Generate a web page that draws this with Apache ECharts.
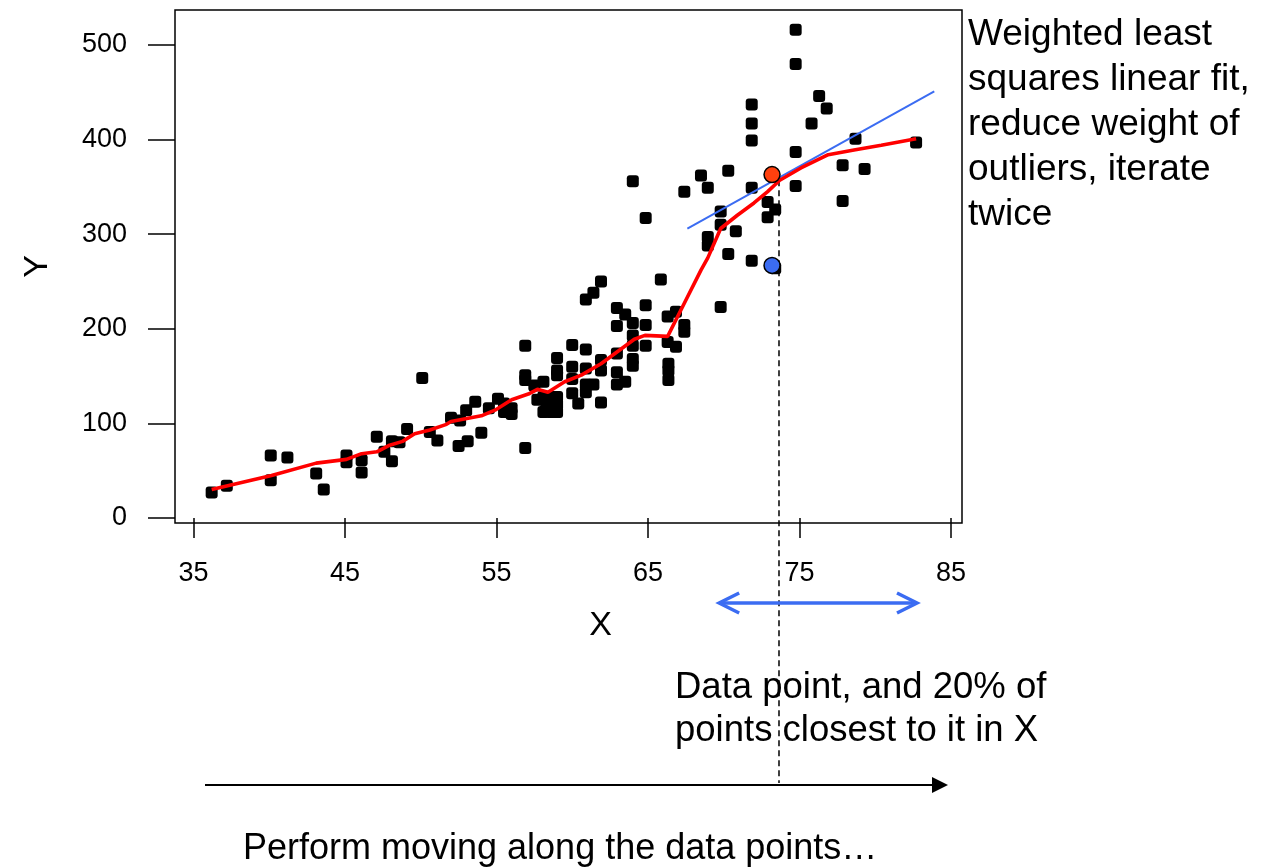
<!DOCTYPE html>
<html>
<head>
<meta charset="utf-8">
<title>Loess sketch</title>
<script src="https://cdn.jsdelivr.net/npm/echarts@6/dist/echarts.min.js"></script>
</head>
<body style="margin:0">
<div id="main" style="width:1272px;height:868px"></div>
<script>
// scatter points (X, Y)
var ptX = [36.2, 37.2, 40.1, 40.1, 41.2, 43.1, 43.6, 45.1, 45.1, 46.1, 46.1, 47.1, 47.6, 48.1, 48.1, 48.6, 49.1, 50.1, 50.6, 51.1,
           52.0, 52.6, 52.5, 53.1, 53.0, 53.6, 54.0, 54.5, 55.1, 55.5, 55.5, 56.0, 56.0,
           56.9, 56.9, 56.9, 56.9, 57.5, 57.7, 58.1, 58.1, 58.1, 58.6, 58.6, 58.3, 59.0, 59.0, 59.0, 59.0, 59.0, 59.0,
           60.0, 60.0, 60.0, 60.0, 60.4, 60.9, 60.9, 60.9, 60.9, 60.9, 61.4, 61.4, 61.9, 61.9, 61.9, 61.9,
           62.95, 62.95, 62.95, 62.95, 62.95, 63.5, 63.5, 64.0, 64.0, 64.0, 64.0, 64.0, 64.0, 64.85, 64.85, 64.85, 64.85,
           65.85, 66.3, 66.3, 66.35, 66.35, 66.35, 66.85, 66.85, 67.4, 67.4, 67.4,
           68.5, 68.95, 68.95, 68.95, 69.8, 69.8, 69.8, 70.3, 70.3, 70.8,
           71.85, 71.85, 71.85, 71.85, 71.85, 72.9, 72.9, 73.4, 73.4,
           74.75, 74.75, 74.75, 74.75, 75.8, 76.3, 76.8, 77.85, 77.85, 78.7, 79.3, 82.7];
var ptY = [27, 34, 66, 40, 64, 47, 30, 66, 59, 61, 48, 86, 70, 60, 81, 80, 94, 148, 91, 82,
           106, 103, 76, 81, 114, 123, 90, 116, 126, 121, 112, 116, 110,
           182, 151, 146, 74, 140, 125, 144, 128, 112, 112, 128, 120, 169, 156, 151, 128, 120, 112,
           183, 160, 147, 132, 121, 231, 178, 158, 141, 133, 141, 238, 250, 167, 156, 122,
           222, 203, 174, 154, 141, 215, 144, 356, 206, 193, 182, 168, 161, 317, 225, 204, 182,
           252, 213, 186, 163, 156, 146, 218, 181, 345, 204, 197,
           362, 349, 297, 288, 324, 310, 223, 367, 279, 303,
           437, 417, 399, 349, 272, 334, 318, 326, 264,
           516, 480, 387, 351, 417, 446, 433, 373, 335, 401, 369, 397];

// loess curve
var loessX = [36.2, 40.15, 43.1, 45.1, 46.1, 47.1, 47.95, 48.8, 49.6, 50.6, 51.7, 52.0, 54.0, 54.9, 56.0, 57.1, 57.7, 58.4,
              59.5, 60.6, 61.9, 63.0, 64.1, 64.8, 66.3, 67.4, 68.5, 68.95, 69.8, 70.9, 72.0, 72.9, 73.7, 75.1, 76.9, 78.6, 80.4, 82.7];
var loessY = [30, 45, 58, 62, 68, 70, 77, 81, 89, 93, 99, 102, 108, 114, 125, 131, 136, 133,
              144, 151, 163, 176, 189, 193, 192, 227, 262, 275, 306, 320, 333, 345, 357, 370, 384, 389, 394, 401];

// local weighted linear fit
var fitX = [67.6, 83.9];
var fitY = [306, 451];

// the point being smoothed: fitted value and observed value
var focusX = 73.19;
var focusFitY = 363;
var focusObsY = 267;

// dashed marker line and the 20% window
var dashX = 73.65;
var dashTopY = 357;
var windowX = [69.7, 82.76];

var xTicks = [35, 45, 55, 65, 75, 85];
var yTicks = [0, 100, 200, 300, 400, 500];

var FONT = 'Liberation Sans, Arial, sans-serif';
var BLUE = '#3b6cf2';

function zip(a, b) {
    var out = [];
    for (var i = 0; i < a.length; i++) out.push([a[i], b[i]]);
    return out;
}

var myChart = echarts.init(document.getElementById('main'));

var option = {
    animation: false,
    backgroundColor: '#fff',
    textStyle: { fontFamily: FONT },
    grid: {
        left: 175, top: 10, width: 787, height: 513,
        show: true, borderColor: '#000', borderWidth: 1.5
    },
    xAxis: {
        type: 'value', min: 33.78, max: 85.73,
        axisLine: { show: false },
        splitLine: { show: false },
        axisTick: { show: true, length: 20, customValues: xTicks, lineStyle: { color: '#000', width: 1.5 } },
        axisLabel: { customValues: xTicks, margin: 37, fontSize: 27, color: '#000', fontFamily: FONT },
        name: 'X', nameLocation: 'middle', nameGap: 86,
        nameTextStyle: { fontSize: 34, color: '#000', fontFamily: FONT, padding: [0, 0, 0, 64] }
    },
    yAxis: {
        type: 'value', min: -5.29, max: 537,
        axisLine: { show: false },
        splitLine: { show: false },
        axisTick: { show: true, length: 27, customValues: yTicks, lineStyle: { color: '#000', width: 1.5 } },
        axisLabel: { customValues: yTicks, margin: 48, fontSize: 27, color: '#000', fontFamily: FONT },
        name: 'Y', nameLocation: 'middle', nameRotate: 90, nameGap: 120,
        nameTextStyle: { fontSize: 34, color: '#000', fontFamily: FONT }
    },
    series: [
        {
            // dashed vertical marker, runs below the plot into the text
            type: 'custom', clip: false, silent: true, z: 1,
            data: [[dashX, dashTopY]],
            renderItem: function (params, api) {
                var p = api.coord([api.value(0), api.value(1)]);
                return {
                    type: 'line',
                    shape: { x1: p[0], y1: p[1], x2: p[0], y2: 783 },
                    style: { stroke: '#000', lineWidth: 1.5, lineDash: [6, 4] }
                };
            }
        },
        {
            type: 'scatter', z: 2,
            data: zip(ptX, ptY),
            symbol: 'roundRect', symbolSize: 12,
            itemStyle: { color: '#000', opacity: 1 }
        },
        {
            type: 'line', z: 3,
            data: zip(fitX, fitY),
            showSymbol: false,
            lineStyle: { color: BLUE, width: 2 }
        },
        {
            type: 'line', z: 4,
            data: zip(loessX, loessY),
            showSymbol: false,
            lineStyle: { color: '#ff0000', width: 3.6 }
        },
        {
            type: 'scatter', z: 5,
            data: [[focusX, focusFitY]],
            symbol: 'circle', symbolSize: 16,
            itemStyle: { color: '#ff400e', borderColor: '#000', borderWidth: 1.5, opacity: 1 }
        },
        {
            type: 'scatter', z: 5,
            data: [[focusX, focusObsY]],
            symbol: 'circle', symbolSize: 16,
            itemStyle: { color: BLUE, borderColor: '#000', borderWidth: 1.5, opacity: 1 }
        },
        {
            // blue double arrow showing the window in X
            type: 'custom', clip: false, silent: true, z: 5,
            data: [[windowX[0], windowX[1]]],
            renderItem: function (params, api) {
                var a = api.coord([api.value(0), 0])[0];
                var b = api.coord([api.value(1), 0])[0];
                var y = 603;
                var st = { stroke: BLUE, lineWidth: 3.5, fill: null };
                return {
                    type: 'group',
                    children: [
                        { type: 'line', shape: { x1: a, y1: y, x2: b, y2: y }, style: st },
                        { type: 'polyline', shape: { points: [[a + 20, y - 10], [a, y], [a + 20, y + 10]] }, style: st },
                        { type: 'polyline', shape: { points: [[b - 20, y - 10], [b, y], [b - 20, y + 10]] }, style: st }
                    ]
                };
            }
        }
    ],
    graphic: [
        {
            type: 'text', left: 968, top: 12,
            style: {
                text: 'Weighted least\nsquares linear fit,\nreduce weight of\noutliers, iterate\ntwice',
                lineHeight: 45, fill: '#000', font: '37px ' + FONT
            }
        },
        {
            type: 'text', left: 675, top: 666,
            style: {
                text: 'Data point, and 20% of\npoints closest to it in X',
                lineHeight: 43, fill: '#000', font: '36.5px ' + FONT
            }
        },
        {
            type: 'line',
            shape: { x1: 205, y1: 785, x2: 934, y2: 785 },
            style: { stroke: '#000', lineWidth: 2 }
        },
        {
            type: 'polygon',
            shape: { points: [[932, 777], [948, 785], [932, 793]] },
            style: { fill: '#000' }
        },
        {
            type: 'text', left: 243, top: 831,
            style: {
                text: 'Perform moving along the data points\u2026',
                fill: '#000', font: '36px ' + FONT
            }
        }
    ]
};

myChart.setOption(option);

window.onresize = function () {
    myChart.resize();
};
</script>
</body>
</html>
